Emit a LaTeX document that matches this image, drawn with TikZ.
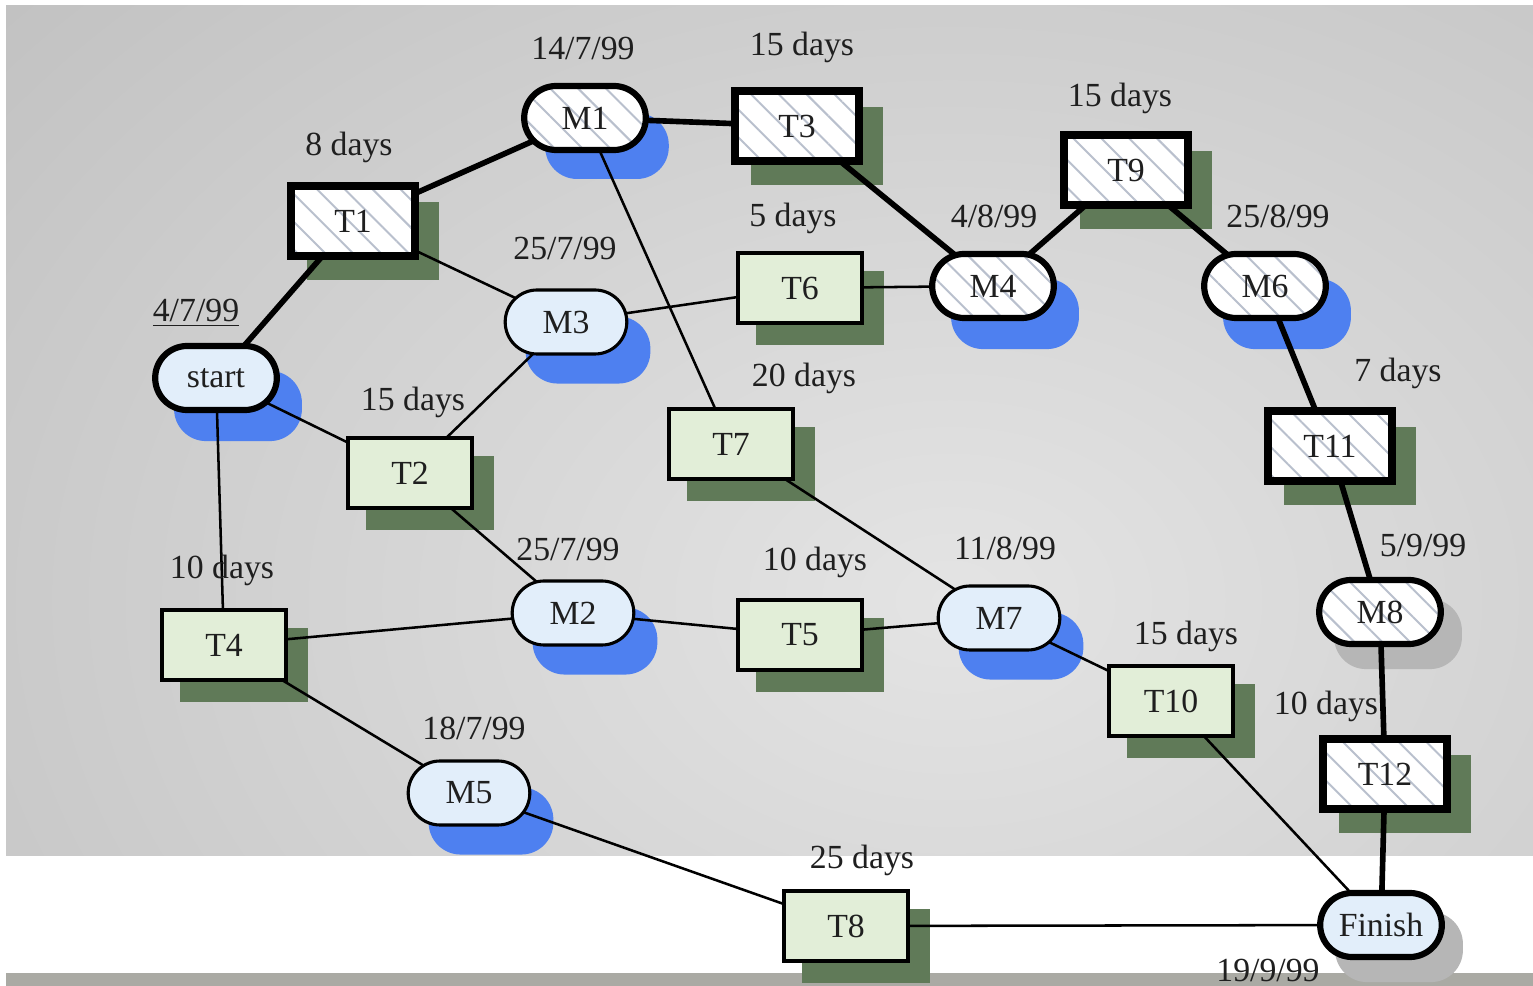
\documentclass[tikz,border=0pt]{standalone}
\usepackage{fontspec}
\setmainfont{Liberation Serif}
\usetikzlibrary{patterns.meta}

\definecolor{taskgreen}{RGB}{226,238,216}
\definecolor{taskshadow}{RGB}{96,122,88}
\definecolor{milefill}{RGB}{226,238,250}
\definecolor{mileshadow}{RGB}{78,128,240}
\definecolor{endshadow}{RGB}{182,182,182}
\definecolor{hatchgray}{RGB}{185,192,205}
\definecolor{bglight}{RGB}{228,228,228}
\definecolor{bgdark}{RGB}{168,168,168}
\definecolor{stripgray}{RGB}{170,170,164}

\pgfdeclarelayer{back}
\pgfdeclarelayer{shadow}
\pgfdeclarelayer{edges}
\pgfsetlayers{back,shadow,edges,main}

\tikzset{
  txt/.style={font=\fontsize{12}{14}\selectfont, text=black!88},
  hatch/.style={preaction={fill=white}, pattern={Lines[angle=-45,distance=7pt,line width=0.7pt]}, pattern color=hatchgray},
  task/.style={txt, draw, rectangle, line width=1.4pt, fill=taskgreen, minimum width=1.55cm, minimum height=0.88cm},
  crittask/.style={task, line width=3pt, hatch},
  mile/.style={txt, draw, rectangle, rounded corners=0.4cm, line width=1.1pt, fill=milefill, minimum width=1.52cm, minimum height=0.8cm},
  endmile/.style={mile, line width=2.2pt},
  critmile/.style={mile, line width=2.2pt, hatch},
  link/.style={line width=0.9pt},
  critlink/.style={line width=2pt},
  lbl/.style={txt, inner sep=1pt}
}

\begin{document}
\begin{tikzpicture}[x=0.0125cm, y=-0.0125cm]
\useasboundingbox (0,0) rectangle (1533,986);

% milestones
\node[endmile] (start) at (216,378) {start};
\node[critmile] (M1) at (585,118) {M1};
\node[mile] (M3) at (566,322) {M3};
\node[critmile] (M4) at (993,286) {M4};
\node[critmile] (M6) at (1265,286) {M6};
\node[critmile] (M8) at (1380,612) {M8};
\node[mile] (M2) at (573,613) {M2};
\node[mile] (M7) at (999,618) {M7};
\node[mile] (M5) at (469,793) {M5};
\node[endmile] (finish) at (1381,925) {Finish};

% tasks
\node[crittask] (T1) at (353,221) {T1};
\node[task] (T2) at (410,473) {T2};
\node[crittask] (T3) at (797,126) {T3};
\node[task] (T4) at (224,645) {T4};
\node[task] (T5) at (800,635) {T5};
\node[task] (T6) at (800,288) {T6};
\node[task] (T7) at (731,444) {T7};
\node[task] (T8) at (846,926) {T8};
\node[crittask] (T9) at (1126,170) {T9};
\node[task] (T10) at (1171,701) {T10};
\node[crittask] (T11) at (1330,446) {T11};
\node[crittask] (T12) at (1385,774) {T12};

% dates
\node[lbl] (d-start) at (196,313) {\underline{4/7/99}};
\node[lbl] (d-M1) at (583,48) {14/7/99};
\node[lbl] (d-M3) at (565,248) {25/7/99};
\node[lbl] (d-M4) at (994,216) {4/8/99};
\node[lbl] (d-M6) at (1278,216) {25/8/99};
\node[lbl] (d-M2) at (568,549) {25/7/99};
\node[lbl] (d-M7) at (1005,548) {11/8/99};
\node[lbl] (d-M8) at (1423,545) {5/9/99};
\node[lbl] (d-M5) at (474,728) {18/7/99};
\node[lbl, anchor=base] (d-finish) at (1268,982) {19/9/99};

% durations
\node[lbl] (dur-T1) at (349,147) {8 days};
\node[lbl] (dur-T3) at (802,47) {15 days};
\node[lbl] (dur-T9) at (1120,98) {15 days};
\node[lbl] (dur-T6) at (793,218) {5 days};
\node[lbl] (dur-T7) at (804,378) {20 days};
\node[lbl] (dur-T11) at (1398,373) {7 days};
\node[lbl] (dur-T2) at (413,402) {15 days};
\node[lbl] (dur-T4) at (222,570) {10 days};
\node[lbl] (dur-T5) at (815,562) {10 days};
\node[lbl] (dur-T10) at (1186,636) {15 days};
\node[lbl] (dur-T12) at (1326,706) {10 days};
\node[lbl] (dur-T8) at (862,860) {25 days};

\begin{pgfonlayer}{edges}
  % critical path
  \draw[critlink] (start.center) -- (T1.center) -- (M1.center) -- (T3.center) -- (M4.center)
    -- (T9.center) -- (M6.center) -- (T11.center) -- (M8.center) -- (T12.center) -- (finish.center);
  % other links
  \draw[link] (T1.center) -- (M3.center) -- (T2.center) -- (start.center) -- (T4.center);
  \draw[link] (M3.center) -- (T6.center) -- (M4.center);
  \draw[link] (M1.center) -- (T7.center) -- (M7.center);
  \draw[link] (T2.center) -- (M2.center);
  \draw[link] (T4.center) -- (M2.center) -- (T5.center) -- (M7.center) -- (T10.center) -- (finish.center);
  \draw[link] (T4.center) -- (M5.center) -- (T8.center) -- (finish.center);
\end{pgfonlayer}

\begin{pgfonlayer}{shadow}
  \foreach \t in {T1,T2,T3,T4,T5,T6,T7,T8,T9,T10,T11,T12}
    \fill[taskshadow] ([shift={(20,20)}]\t.south west) rectangle ([shift={(20,20)}]\t.north east);
  \foreach \m in {start,M1,M2,M3,M4,M5,M6,M7}
    \fill[mileshadow, rounded corners=0.4cm] ([shift={(22,28)}]\m.south west) rectangle ([shift={(22,28)}]\m.north east);
  \foreach \m in {M8,finish}
    \fill[endshadow, rounded corners=0.4cm] ([shift={(18,22)}]\m.south west) rectangle ([shift={(18,22)}]\m.north east);
\end{pgfonlayer}

\begin{pgfonlayer}{back}
  \fill[white] (0,0) rectangle (1533,986);
  \begin{scope}
    \clip (6,6) rectangle (1533,856);
    \shade[inner color=bglight, outer color=bgdark] (950,600) ellipse (2200 and 1600);
  \end{scope}
  \fill[stripgray] (6,973) rectangle (1533,986);
\end{pgfonlayer}
\end{tikzpicture}
\end{document}
